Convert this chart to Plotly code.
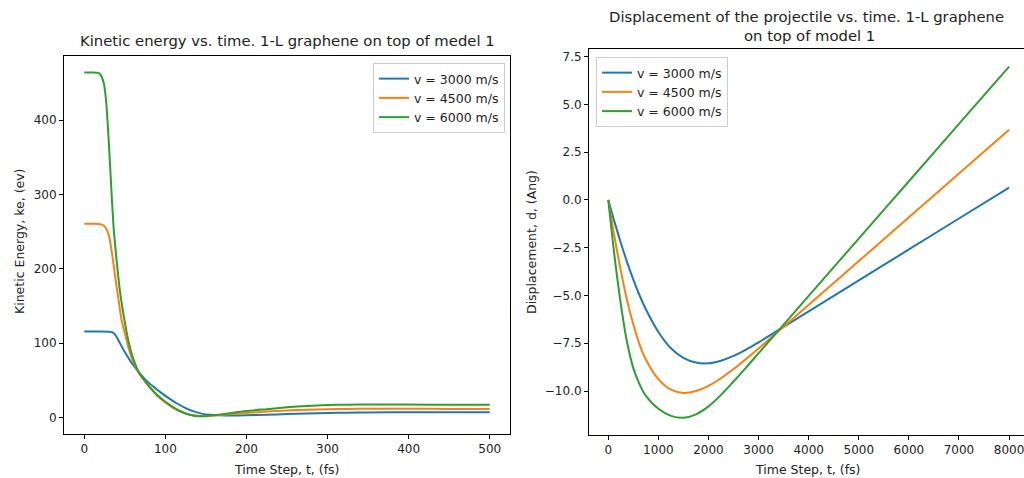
import plotly.graph_objects as go

# ---------------- data ----------------
series_names = ["v = 3000 m/s", "v = 4500 m/s", "v = 6000 m/s"]
colors = ["#1f77b4", "#ff7f0e", "#2ca02c"]

# Kinetic energy (eV) vs time (fs)
ke_t_3000 = [0, 10, 20, 30, 35, 38, 41, 44, 50, 57, 63, 69, 75, 85, 95, 105, 115, 125, 135, 145,
             155, 165, 180, 200, 225, 250, 275, 300, 325, 350, 400, 450, 500]
ke_3000 = [115.5, 115.5, 115.5, 115.3, 114.3, 111.3, 106.2, 99.9, 87.9, 75.7, 66.4, 58.3, 51.1, 41.5, 33, 25.3,
           18.3, 12.5, 8.0, 5.0, 3.4, 2.7, 2.5, 2.8, 3.5, 4.4, 5.2, 5.8, 6.3, 6.6, 6.8, 6.8, 6.8]

ke_t_4500 = [0, 10, 20, 25, 30, 35, 38, 42, 46, 50, 56, 60, 65, 70, 75, 80, 90, 100, 110, 120, 130, 140,
             150, 160, 175, 200, 225, 250, 275, 300, 325, 350, 400, 450, 500]
ke_4500 = [260.5, 260.5, 260, 257, 246, 215, 190, 160, 131, 113, 88, 76, 64, 55, 48, 41, 29, 20, 12.5, 7, 3.5, 2.2,
           1.9, 2.5, 3.8, 5.9, 7.8, 9.3, 10.3, 10.9, 11.3, 11.5, 11.5, 11.4, 11.3]

ke_t_6000 = [0, 10, 17, 20, 24, 27, 30, 33, 36, 40, 44, 50, 55, 60, 65, 70, 75, 80, 90, 100, 110, 120, 130, 140,
             150, 160, 175, 200, 225, 250, 275, 300, 325, 350, 400, 450, 500]
ke_6000 = [464, 464, 463.5, 461, 450, 425, 375, 315, 258, 210, 170, 128, 100, 80, 66, 56, 49, 42, 30, 21, 13.5, 7.5,
           3.5, 1.6, 1.6, 2.8, 5, 8.5, 11, 13.5, 15.3, 16.5, 17.1, 17.3, 17.2, 17, 16.8]

# Displacement (Ang) vs time step
d_t = [0, 125, 250, 375, 500, 625, 750, 1000, 1250, 1500, 1750, 2000, 2250, 2500, 2750, 3000,
       3250, 3500, 4000, 5000, 6000, 7000, 8000]
d_3000 = [0, -1.16, -2.24, -3.25, -4.17, -5.0, -5.72, -6.91, -7.76, -8.26, -8.51, -8.55, -8.41, -8.16,
          -7.83, -7.45, -7.05, -6.64, -5.83, -4.21, -2.59, -0.97, 0.65]
d_4500 = [0, -1.95, -3.7, -5.25, -6.52, -7.57, -8.35, -9.38, -9.93, -10.1, -10.0, -9.73, -9.33, -8.85,
          -8.32, -7.77, -7.2, -6.64, -5.49, -3.2, -0.91, 1.38, 3.67]
d_6000 = [0, -2.95, -5.45, -7.45, -8.8, -9.65, -10.25, -10.93, -11.3, -11.4, -11.22, -10.8, -10.2, -9.5,
          -8.77, -8.02, -7.27, -6.52, -5.02, -2.02, 0.98, 3.98, 6.98]

ke_xticks = [0, 100, 200, 300, 400, 500]
ke_yticks = [0, 100, 200, 300, 400]
d_xticks = [0, 1000, 2000, 3000, 4000, 5000, 6000, 7000, 8000]
d_yticks = [-10.0, -7.5, -5.0, -2.5, 0.0, 2.5, 5.0, 7.5]
d_ytick_text = ["\u221210.0", "\u22127.5", "\u22125.0", "\u22122.5", "0.0", "2.5", "5.0", "7.5"]

# ---------------- figure ----------------
W, H = 1024, 478
FONT = "DejaVu Sans"
TXT = "#222222"
TICK_SIZE = 12
LABEL_SIZE = 12.5
TITLE_SIZE = 14.8

fig = go.Figure()

ke_sets = [(ke_t_3000, ke_3000), (ke_t_4500, ke_4500), (ke_t_6000, ke_6000)]
d_sets = [(d_t, d_3000), (d_t, d_4500), (d_t, d_6000)]

for i, (tx, ty) in enumerate(ke_sets):
    fig.add_trace(go.Scatter(x=tx, y=ty, mode="lines", name=series_names[i],
                             line=dict(color=colors[i], width=2, shape="spline", smoothing=0.6),
                             xaxis="x", yaxis="y", legend="legend"))
for i, (tx, ty) in enumerate(d_sets):
    fig.add_trace(go.Scatter(x=tx, y=ty, mode="lines", name=series_names[i],
                             line=dict(color=colors[i], width=2, shape="spline", smoothing=1.0),
                             xaxis="x2", yaxis="y2", legend="legend2"))

def px_x(p):
    return p / W

def px_y(p):
    return 1 - p / H

axis_common = dict(showgrid=False, zeroline=False, showline=True, linecolor="#000000", linewidth=1,
                   ticks="outside", ticklen=4, tickwidth=1, tickcolor="#000000",
                   tickfont=dict(family=FONT, size=TICK_SIZE, color=TXT))

legend_common = dict(bgcolor="rgba(255,255,255,0.8)", bordercolor="#cccccc", borderwidth=1,
                     font=dict(family=FONT, size=LABEL_SIZE, color=TXT), tracegroupgap=0,
                     itemclick=False)

fig.update_layout(
    width=W, height=H,
    margin=dict(l=0, r=0, t=0, b=0),
    paper_bgcolor="white", plot_bgcolor="white",
    font=dict(family=FONT, color=TXT),
    xaxis=dict(domain=[px_x(64), px_x(510)], range=[-25, 525], tickvals=ke_xticks,
               mirror=True, anchor="y", **axis_common),
    yaxis=dict(domain=[px_y(434), px_y(56)], range=[-22.4, 486.2], tickvals=ke_yticks,
               mirror=True, anchor="x", **axis_common),
    xaxis2=dict(domain=[px_x(589), 1.0], range=[-385, 8298], tickvals=d_xticks,
                mirror=True, anchor="y2", ticklabeloverflow="allow", **axis_common),
    yaxis2=dict(domain=[px_y(435), px_y(49)], range=[-12.3, 7.9], tickvals=d_yticks,
                ticktext=d_ytick_text, mirror=False, anchor="x2", **axis_common),
    legend=dict(x=px_x(505), y=px_y(63), xanchor="right", yanchor="top", **legend_common),
    legend2=dict(x=px_x(596), y=px_y(57), xanchor="left", yanchor="top", **legend_common),
    showlegend=True,
)

def ann(text, x, y, size, angle=0):
    fig.add_annotation(text=text, x=px_x(x), y=px_y(y), xref="paper", yref="paper",
                       showarrow=False, xanchor="center", yanchor="middle", textangle=angle,
                       font=dict(family=FONT, size=size, color=TXT))

ann("Kinetic energy vs. time. 1-L graphene on top of medel 1", 287, 41, TITLE_SIZE)
ann("Displacement of the projectile vs. time. 1-L graphene", 806, 17, TITLE_SIZE)
ann("on top of model 1", 809, 35, TITLE_SIZE)
ann("Time Step, t, (fs)", 287, 469, LABEL_SIZE)
ann("Time Step, t, (fs)", 808, 469, LABEL_SIZE)
ann("Kinetic Energy, ke, (ev)", 19, 242, LABEL_SIZE, -90)
ann("Displacement, d, (Ang)", 531, 242, LABEL_SIZE, -90)

fig.write_html("out.html")
